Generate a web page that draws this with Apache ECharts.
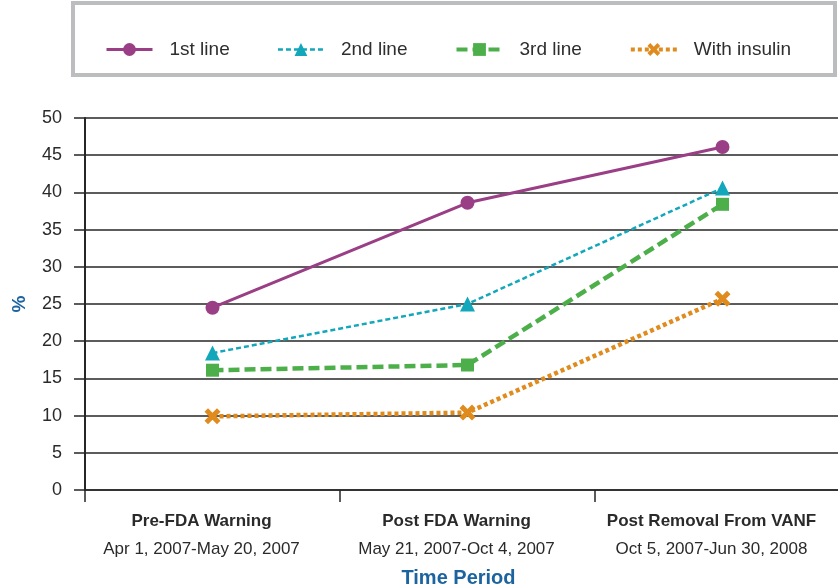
<!DOCTYPE html>
<html>
<head>
<meta charset="utf-8">
<script src="https://cdn.jsdelivr.net/npm/echarts@6/dist/echarts.min.js"></script>
<style>
  html, body { margin: 0; padding: 0; background: #fff; }
  #chart { width: 838px; height: 588px; }
</style>
</head>
<body>
<div id="chart"></div>
<script>
// Time periods (title line and date range)
const periodTitles = ['Pre-FDA Warning', 'Post FDA Warning', 'Post Removal From VANF'];
const periodDates = ['Apr 1, 2007-May 20, 2007', 'May 21, 2007-Oct 4, 2007', 'Oct 5, 2007-Jun 30, 2008'];

// Percent of patients per treatment line
const firstLine = [24.5, 38.6, 46.1];
const secondLine = [18.4, 25.0, 40.6];
const thirdLine = [16.1, 16.8, 38.4];
const withInsulin = [9.9, 10.4, 25.7];

const seriesNames = ['1st line', '2nd line', '3rd line', 'With insulin'];

const crossSymbol = 'path://M0,2.2 L2.2,0 L5,2.8 L7.8,0 L10,2.2 L7.2,5 L10,7.8 L7.8,10 L5,7.2 L2.2,10 L0,7.8 L2.8,5 Z';

const categories = periodTitles.map((t, i) => t + '\n' + periodDates[i]);

const chart = echarts.init(document.getElementById('chart'), null, { renderer: 'canvas' });

const gridColor = '#262626';
const font = '"Liberation Sans", Arial, sans-serif';

chart.setOption({
  backgroundColor: '#fff',
  animation: false,
  textStyle: { fontFamily: font },
  graphic: [{
    type: 'rect',
    shape: { x: 73, y: 3, width: 762, height: 72 },
    style: { fill: '#fff', stroke: '#bcbdbe', lineWidth: 4 },
    z: -1
  }],
  legend: {
    data: [
      { name: seriesNames[0], lineStyle: { width: 3 } },
      { name: seriesNames[1], lineStyle: { width: 2.5 } },
      { name: seriesNames[2], lineStyle: { width: 4 } },
      { name: seriesNames[3], lineStyle: { width: 4 } }
    ],
    left: 105,
    top: 40,
    padding: 0,
    itemWidth: 46,
    itemHeight: 16,
    itemGap: 47,
    textStyle: { fontSize: 19, color: '#2e2e2e', fontFamily: font, padding: [0, 0, 0, 12] }
  },
  grid: { left: 85, right: -12, top: 118, bottom: 98, containLabel: false, outerBoundsMode: 'none' },
  xAxis: {
    type: 'category',
    data: categories,
    boundaryGap: true,
    name: 'Time Period',
    nameLocation: 'middle',
    nameGap: 78,
    nameTextStyle: { fontSize: 20, fontWeight: 'bold', color: '#1b64a0', fontFamily: font, padding: [0, 18, 0, 0] },
    axisLine: { show: true, lineStyle: { color: gridColor, width: 1.5 } },
    axisTick: { show: true, length: 12, lineStyle: { color: gridColor, width: 1.5 } },
    axisLabel: {
      margin: 17,
      interval: 0,
      padding: [0, 22, 0, 0],
      formatter: function (v) {
        const parts = v.split('\n');
        return '{b|' + parts[0] + '}\n{d|' + parts[1] + '}';
      },
      rich: {
        b: { fontSize: 17, fontWeight: 'bold', color: '#2a2a2a', lineHeight: 28, fontFamily: font },
        d: { fontSize: 17, color: '#2a2a2a', lineHeight: 28, fontFamily: font }
      }
    }
  },
  yAxis: {
    type: 'value',
    min: 0,
    max: 50,
    interval: 5,
    name: '%',
    nameLocation: 'middle',
    nameRotate: 90,
    nameGap: 56,
    nameTextStyle: { fontSize: 19, fontWeight: 'bold', color: '#1b64a0', fontFamily: font },
    axisLine: { show: true, lineStyle: { color: gridColor, width: 2 } },
    axisTick: { show: true, length: 11, lineStyle: { color: gridColor, width: 1.5 } },
    axisLabel: { fontSize: 18, color: '#2a2a2a', margin: 23, fontFamily: font },
    splitLine: { show: true, lineStyle: { color: gridColor, width: 1.6 } }
  },
  series: [
    {
      name: seriesNames[0], type: 'line', data: firstLine,
      symbol: 'circle', symbolSize: 14,
      itemStyle: { color: '#9a3f86' },
      lineStyle: { color: '#9a3f86', width: 3, type: 'solid' },
      z: 5
    },
    {
      name: seriesNames[1], type: 'line', data: secondLine,
      symbol: 'triangle', symbolSize: 15,
      itemStyle: { color: '#12a7ba' },
      lineStyle: { color: '#12a7ba', width: 2.5, type: [5, 3] },
      z: 4
    },
    {
      name: seriesNames[2], type: 'line', data: thirdLine,
      symbol: 'rect', symbolSize: 13,
      itemStyle: { color: '#4daf4a' },
      lineStyle: { color: '#4daf4a', width: 4.5, type: [11, 5] },
      z: 3
    },
    {
      name: seriesNames[3], type: 'line', data: withInsulin,
      symbol: crossSymbol, symbolSize: 16,
      itemStyle: { color: '#e08b1d' },
      lineStyle: { color: '#e08b1d', width: 4.5, type: [4, 3] },
      z: 2
    }
  ]
});
</script>
</body>
</html>
